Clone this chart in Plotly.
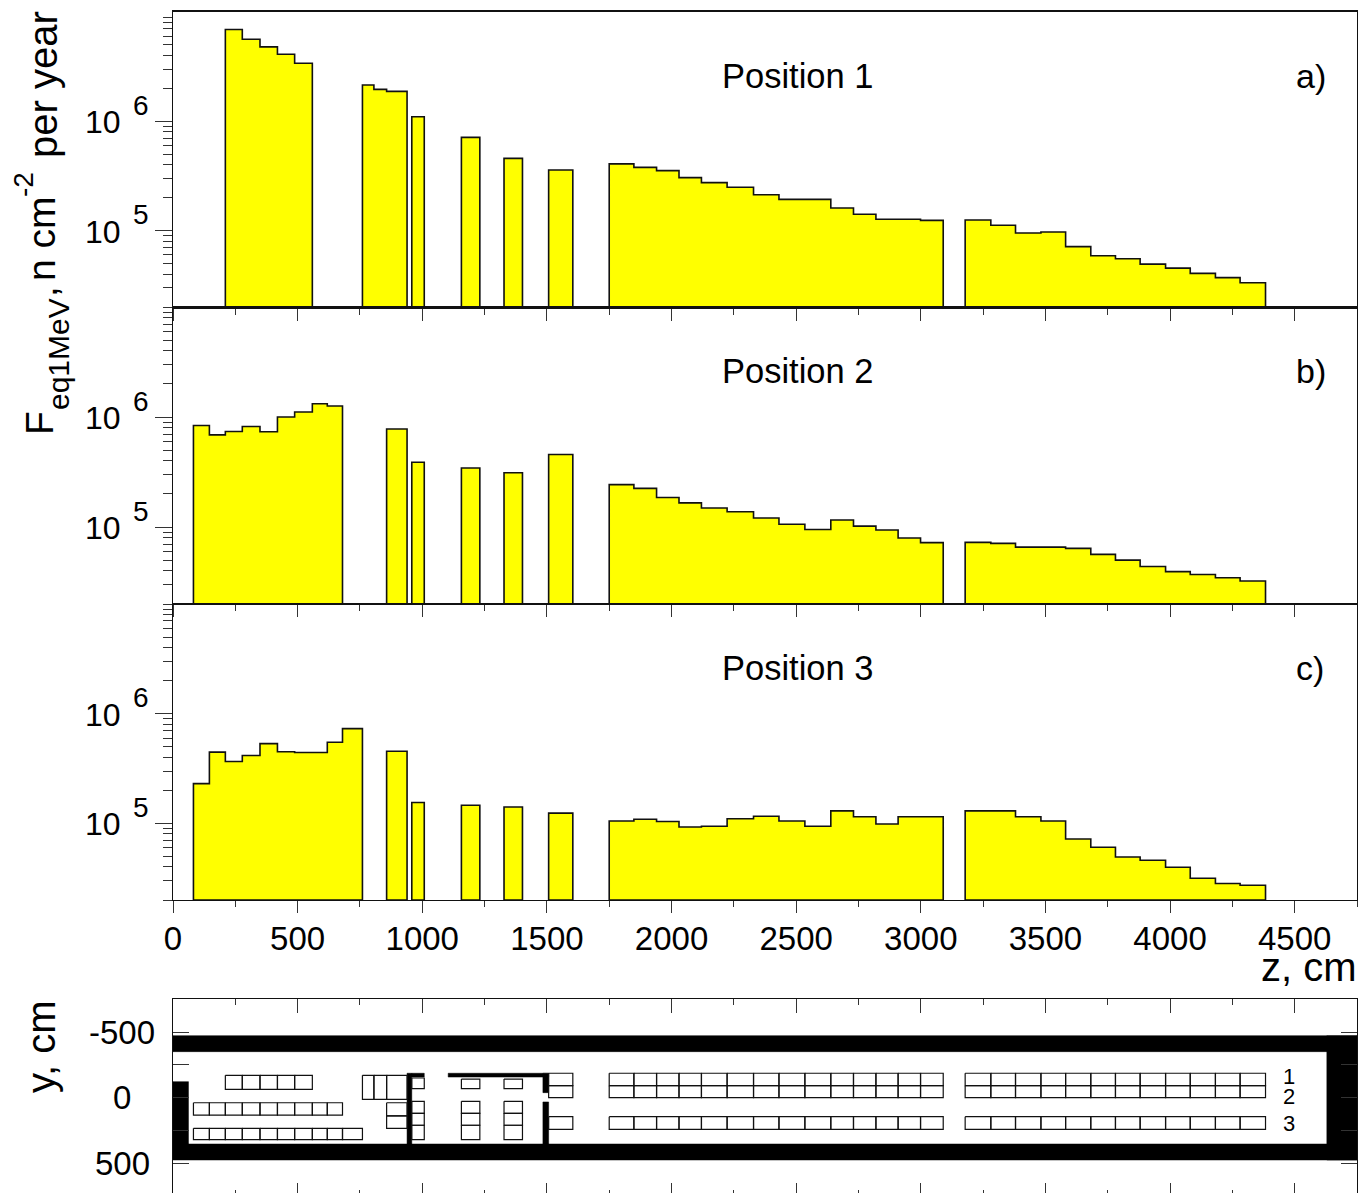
import math
import plotly.graph_objects as go

W, H = 1360, 1193
FONT = "Liberation Sans"
YELLOW = "#ffff00"
INK = "#111111"
TICK = "#333333"

# Histogram bin edges along z (cm), per block
z_pos1_a = [210, 278, 349, 419, 488, 559]
z_pos1_b = [760, 806, 857, 939]
z_pos2_a = [82, 146, 210, 278, 349, 419, 488, 559, 619, 680]
z_pos3_a = [82, 146, 210, 278, 349, 419, 488, 559, 619, 680, 760]
z_pos23_b = [857, 939]
z_m1 = [958, 1008]
z_m2 = [1157, 1231]
z_m3 = [1328, 1402]
z_m4 = [1507, 1604]
z_long1 = [1750, 1849, 1940, 2030, 2120, 2223, 2329, 2431, 2535, 2639, 2730, 2820, 2909, 2999, 3090]
z_long2 = [3178, 3281, 3380, 3482, 3581, 3682, 3781, 3880, 3982, 4081, 4182, 4281, 4383]

# Position 1 values
p1_a = [6.92e6, 5.64e6, 4.80e6, 4.11e6, 3.40e6]
p1_b = [2.15e6, 1.96e6, 1.88e6]
p1_m = [1.10e6, 7.13e5, 4.58e5, 3.59e5]
p1_long1 = [4.08e5, 3.79e5, 3.54e5, 3.05e5, 2.75e5, 2.49e5, 2.13e5, 1.93e5, 1.93e5, 1.61e5, 1.41e5, 1.27e5, 1.27e5, 1.24e5]
p1_long2 = [1.25e5, 1.12e5, 9.51e4, 9.71e4, 7.13e4, 5.89e4, 5.53e4, 4.94e4, 4.54e4, 4.06e4, 3.71e4, 3.33e4]

# Position 2 values
p2_a = [8.38e5, 6.89e5, 7.38e5, 8.20e5, 7.35e5, 1.00e6, 1.11e6, 1.32e6, 1.26e6]
p2_b = [7.78e5]
p2_m = [3.88e5, 3.44e5, 3.12e5, 4.56e5]
p2_long1 = [2.43e5, 2.25e5, 1.86e5, 1.66e5, 1.49e5, 1.38e5, 1.21e5, 1.06e5, 9.50e4, 1.16e5, 1.02e5, 9.42e4, 7.96e4, 7.22e4]
p2_long2 = [7.26e4, 7.11e4, 6.58e4, 6.58e4, 6.40e4, 5.65e4, 5.01e4, 4.39e4, 3.94e4, 3.71e4, 3.46e4, 3.24e4]

# Position 3 values
p3_a = [2.30e5, 4.46e5, 3.66e5, 4.15e5, 5.33e5, 4.49e5, 4.43e5, 4.43e5, 5.48e5, 7.31e5]
p3_b = [4.55e5]
p3_m = [1.55e5, 1.46e5, 1.41e5, 1.24e5]
p3_long1 = [1.05e5, 1.09e5, 1.04e5, 9.27e4, 9.40e4, 1.10e5, 1.16e5, 1.05e5, 9.40e4, 1.30e5, 1.15e5, 9.87e4, 1.15e5, 1.15e5]
p3_long2 = [1.30e5, 1.30e5, 1.15e5, 1.05e5, 7.19e4, 6.05e4, 4.94e4, 4.61e4, 3.98e4, 3.16e4, 2.83e4, 2.73e4]

Y_FLOOR = 2e4
Y_TOP = 1e7
Z_MAX = 4750
x_major = [0, 500, 1000, 1500, 2000, 2500, 3000, 3500, 4000, 4500]
x_minor = [250, 750, 1250, 1750, 2250, 2750, 3250, 3750, 4250, 4750]
y_major = [1e5, 1e6]
y_minor = [2e4, 3e4, 4e4, 5e4, 6e4, 7e4, 8e4, 9e4, 2e5, 3e5, 4e5, 5e5, 6e5, 7e5, 8e5, 9e5,
           2e6, 3e6, 4e6, 5e6, 6e6, 7e6, 8e6, 9e6]

# Detector layout (cm): y extents of rows, and walls (z0, z1, y0, y1)
row1 = (-169.5, -62.6)
row2 = (40, 134)
row3 = (235, 322)
row1_hi = (-185, -90)
row2_hi = (-90, 1.5)
row3_hi = (146.6, 243)
block_top = (-169.5, 14)
block_low = [(40, 141), (141, 235)]
column_m1 = [(-149, -67), (29, 121), (121, 212), (212, 322)]
column_m23 = [(-141, -67), (29, 121), (121, 212), (212, 322)]
walls = [
    (0, Z_MAX, -472, -350),
    (0, Z_MAX, 355, 477),
    (0, 62, -121, 355),
    (4629, Z_MAX, -472, 477),
    (939, 958, -185, 355),
    (958, 1008, -185, -156),
    (1104, 1507, -185, -156),
    (1484, 1507, -185, -37),
    (1484, 1507, 34, 355),
]
row_labels = ["1", "2", "3"]
row_label_y = [-164, -4, 202]
row_label_z = 4476


def step_path(groups):
    xs, ys = [], []
    for edges, vals in groups:
        xs.append(edges[0]); ys.append(Y_FLOOR)
        for i, v in enumerate(vals):
            xs += [edges[i], edges[i + 1]]
            ys += [v, v]
        xs += [edges[-1], edges[0], None]
        ys += [Y_FLOOR, Y_FLOOR, None]
    return xs, ys


def rect_path(rects):
    xs, ys = [], []
    for z0, z1, y0, y1 in rects:
        xs += [z0, z1, z1, z0, z0, None]
        ys += [y0, y0, y1, y1, y0, None]
    return xs, ys


def row_cells(edges, extent):
    return [(edges[i], edges[i + 1], extent[0], extent[1]) for i in range(len(edges) - 1)]


def px(v):
    return v / W


def py(v):
    return 1 - v / H


panels = [
    (step_path([(z_pos1_a, p1_a), (z_pos1_b, p1_b), (z_m1, p1_m[:1]), (z_m2, p1_m[1:2]), (z_m3, p1_m[2:3]),
                (z_m4, p1_m[3:]), (z_long1, p1_long1), (z_long2, p1_long2)]), (12, 307), "Position 1", "a)"),
    (step_path([(z_pos2_a, p2_a), (z_pos23_b, p2_b), (z_m1, p2_m[:1]), (z_m2, p2_m[1:2]), (z_m3, p2_m[2:3]),
                (z_m4, p2_m[3:]), (z_long1, p2_long1), (z_long2, p2_long2)]), (307, 604), "Position 2", "b)"),
    (step_path([(z_pos3_a, p3_a), (z_pos23_b, p3_b), (z_m1, p3_m[:1]), (z_m2, p3_m[1:2]), (z_m3, p3_m[2:3]),
                (z_m4, p3_m[3:]), (z_long1, p3_long1), (z_long2, p3_long2)]), (604, 900), "Position 3", "c)"),
]

fig = go.Figure()
layout = {}
ann = []


def text(t, x, y, size, xanchor="center", yanchor="middle", xref="paper", yref="paper", angle=0, yshift=0):
    ann.append(dict(text=t, x=x, y=y, xref=xref, yref=yref, showarrow=False, xanchor=xanchor, yanchor=yanchor,
                    textangle=angle, yshift=yshift, font=dict(family=FONT, size=size, color="#000000"), borderpad=0))


for i, ((xs, ys), (top, bot), title, tag) in enumerate(panels, start=1):
    s = "" if i == 1 else str(i)
    fig.add_trace(go.Scatter(x=xs, y=ys, mode="lines", fill="toself", fillcolor=YELLOW,
                             line=dict(color=INK, width=1.6), xaxis=f"x{s}", yaxis=f"y{s}",
                             hoverinfo="skip", showlegend=False))
    layout[f"xaxis{s}"] = dict(
        domain=[px(173), px(1357)], range=[0, Z_MAX], anchor=f"y{s}", showgrid=False, zeroline=False, automargin=False,
        showline=True, mirror=True, linecolor=INK, linewidth=2.2 if i == 1 else 1.4,
        tickmode="array", tickvals=x_major, ticktext=[str(v) for v in x_major], ticks="outside",
        ticklen=12, tickwidth=1.2, tickcolor=TICK, showticklabels=(i == 3),
        tickfont=dict(family=FONT, size=33, color="#000000"), ticklabelstandoff=-3,
        minor=dict(tickmode="array", tickvals=x_minor, ticks="outside", ticklen=6, tickwidth=1.2, tickcolor=TICK),
    )
    layout[f"yaxis{s}"] = dict(
        domain=[py(bot), py(top)], type="log", range=[math.log10(Y_FLOOR), math.log10(Y_TOP)], anchor=f"x{s}",
        showgrid=False, zeroline=False, showline=True, mirror=True, linecolor=INK, linewidth=1.4, automargin=False,
        tickmode="array", tickvals=y_major, ticks="outside", ticklen=17, tickwidth=1.2, tickcolor=TICK,
        showticklabels=False,
        minor=dict(tickmode="array", tickvals=y_minor, ticks="outside", ticklen=9, tickwidth=1.2, tickcolor=TICK),
    )
    yr = f"y{s}"
    for val, exp in zip(y_major, ["5", "6"]):
        text("10", px(121.5), math.log10(val), 32, xanchor="right", yref=yr, yshift=-1)
        text(exp, px(132), math.log10(val), 28, xanchor="left", yref=yr, yshift=16)
    title_log = 6 + ((top + 109.6) - (top + 64)) / 109.4
    text(title, 2197, title_log, 34.5, xanchor="left", xref=f"x{s}", yref=yr)
    text(tag, 4500, title_log, 34, xanchor="left", xref=f"x{s}", yref=yr)

# Detector map
cells = []
cells += row_cells(z_pos1_a, row1)
cells += row_cells(z_pos2_a, row2)
cells += row_cells(z_pos3_a, row3)
cells += row_cells(z_pos1_b, block_top)
for ext in block_low:
    cells += row_cells(z_pos23_b, ext)
for ext in column_m1:
    cells += row_cells(z_m1, ext)
for z_col in (z_m2, z_m3):
    for ext in column_m23:
        cells += row_cells(z_col, ext)
for edges in (z_m4, z_long1, z_long2):
    for ext in (row1_hi, row2_hi, row3_hi):
        cells += row_cells(edges, ext)

wx, wy = rect_path(walls)
fig.add_trace(go.Scatter(x=wx, y=wy, mode="lines", fill="toself", fillcolor="#000000",
                         line=dict(color="#000000", width=0.5), xaxis="x4", yaxis="y4",
                         hoverinfo="skip", showlegend=False))
cx, cy = rect_path(cells)
fig.add_trace(go.Scatter(x=cx, y=cy, mode="lines", line=dict(color="#111111", width=1.2),
                         xaxis="x5", yaxis="y5", hoverinfo="skip", showlegend=False))

Y_RANGE = [729, -755.7]
y_map_ticks = [-500, -250, 0, 250, 500]
layout["xaxis4"] = dict(domain=[px(173), px(1357)], range=[0, Z_MAX], anchor="y4", side="top", showgrid=False,
                        zeroline=False, showline=True, linecolor=INK, linewidth=1.4, showticklabels=False,
                        automargin=False,
                        tickmode="array", tickvals=x_major, ticks="inside", ticklen=14, tickwidth=1.2, tickcolor=TICK,
                        minor=dict(tickmode="array", tickvals=x_minor, ticks="inside", ticklen=6, tickwidth=1.2,
                                   tickcolor=TICK))
layout["yaxis4"] = dict(domain=[0, py(998.5)], range=Y_RANGE, anchor="x4", showgrid=False, zeroline=False,
                        showline=True, linecolor=INK, linewidth=1.4, showticklabels=False, automargin=False,
                        tickmode="array", tickvals=y_map_ticks, ticks="inside", ticklen=16, tickwidth=1.2,
                        tickcolor=TICK)
layout["xaxis5"] = dict(overlaying="x4", range=[0, Z_MAX], anchor="y5", side="bottom", showgrid=False, zeroline=False,
                        showline=False, showticklabels=False, automargin=False,
                        tickmode="array", tickvals=x_major, ticks="inside", ticklen=10, tickwidth=1.2, tickcolor=TICK,
                        minor=dict(tickmode="array", tickvals=x_minor, ticks="inside", ticklen=3, tickwidth=1.2,
                                   tickcolor=TICK))
layout["yaxis5"] = dict(overlaying="y4", range=Y_RANGE, anchor="x5", side="right", showgrid=False, zeroline=False,
                        showline=True, linecolor=INK, linewidth=1.4, showticklabels=False, automargin=False,
                        tickmode="array", tickvals=y_map_ticks, ticks="inside", ticklen=16, tickwidth=1.2,
                        tickcolor=TICK)

for t, yv in zip(["-500", "0", "500"], [-500, 0, 500]):
    text(t, px(122), yv, 33, yref="y4")
for t, yv in zip(row_labels, row_label_y):
    text(t, row_label_z, yv, 22, xref="x4", yref="y4")

# Axis titles
text("F", px(39), py(423), 39, angle=-90)
text("eq1MeV", px(59), py(354), 30, angle=-90)
text(",", px(44), py(292), 39, angle=-90)
text("n cm", px(42), py(239), 39, angle=-90)
text("-2", px(24), py(185), 28, angle=-90)
text("per year", px(43), py(85), 40, angle=-90)
text("y, cm", px(41), py(1047), 40, angle=-90)
text("z, cm", px(1358), py(967), 40, xanchor="right")

fig.update_layout(width=W, height=H, margin=dict(l=0, r=0, t=0, b=0), paper_bgcolor="white",
                  plot_bgcolor="rgba(0,0,0,0)", showlegend=False, annotations=ann, **layout)

fig.write_html("out.html", config={"displayModeBar": False},
               post_script="document.body.style.margin='0';document.body.style.overflow='hidden';")
